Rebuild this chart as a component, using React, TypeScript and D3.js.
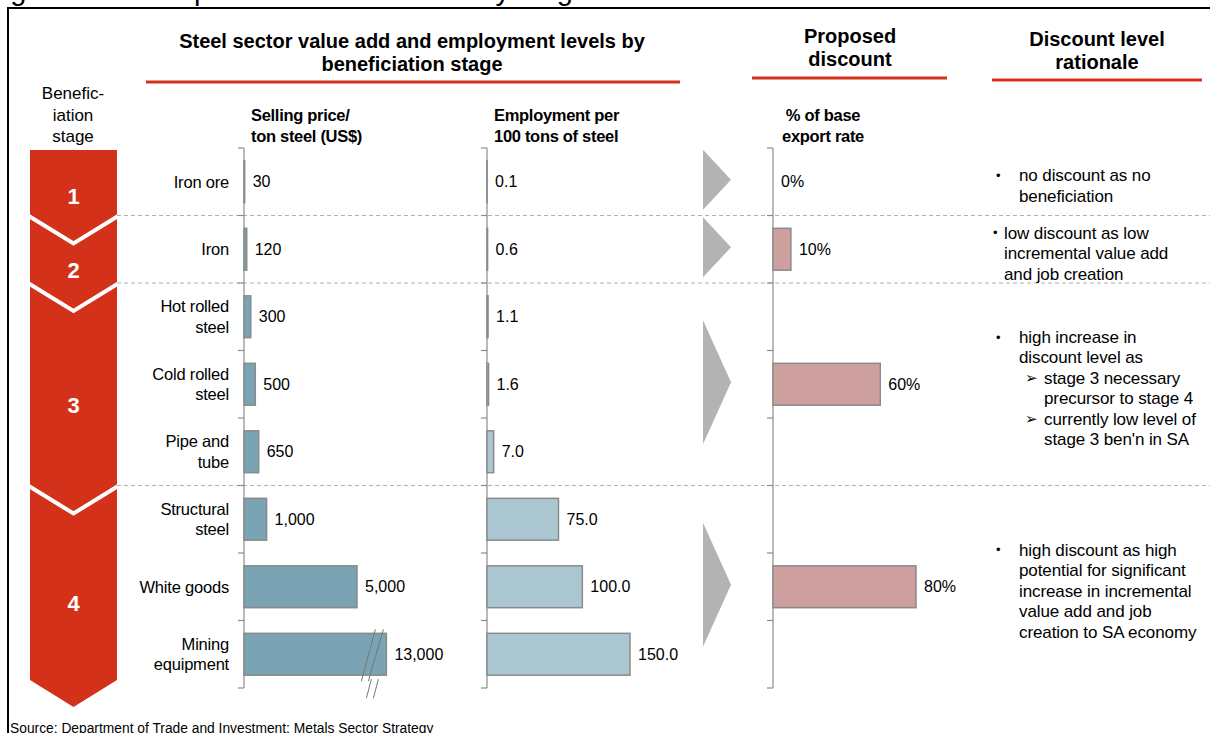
import React from "react";
import * as d3 from "d3";

// ---------- data ----------
const PRODUCTS = [
  "Iron ore",
  "Iron",
  "Hot rolled steel",
  "Cold rolled steel",
  "Pipe and tube",
  "Structural steel",
  "White goods",
  "Mining equipment",
];
const PRODUCT_LABEL_LINES = [
  ["Iron ore"],
  ["Iron"],
  ["Hot rolled", "steel"],
  ["Cold rolled", "steel"],
  ["Pipe and", "tube"],
  ["Structural", "steel"],
  ["White goods"],
  ["Mining", "equipment"],
];
const PRODUCT_STAGE = [1, 2, 3, 3, 3, 4, 4, 4];
const SELLING_PRICE = [30, 120, 300, 500, 650, 1000, 5000, 13000];
const EMPLOYMENT = [0.1, 0.6, 1.1, 1.6, 7.0, 75.0, 100.0, 150.0];
const STAGES = [1, 2, 3, 4];
const STAGE_DISCOUNT = [0, 10, 60, 80];
const PRICE_BREAK_CAP = 6300; // bars above this are drawn broken
const RATIONALE = [
  ["* no discount as no", "  beneficiation"],
  ["* low discount as low", "  incremental value add", "  and job creation"],
  [
    "* high increase in",
    "  discount level as",
    "> stage 3 necessary",
    ">>precursor to stage 4",
    "> currently low level of",
    ">>stage 3 ben'n in SA",
  ],
  [
    "* high discount as high",
    "  potential for significant",
    "  increase in incremental",
    "  value add and job",
    "  creation to SA economy",
  ],
];
const RATIONALE_TIGHT = [false, true, false, false];

// ---------- style ----------
const FONT = "'Liberation Sans', Arial, sans-serif";
const RED = "#D4311A";
const PRICE_FILL = "#7AA3B4";
const EMP_FILL = "#AAC6D1";
const DISC_FILL = "#CDA09F";
const BAR_STROKE = "#8a8a8a";
const AXIS = "#8c8c8c";
const TRI = "#B3B3B3";

const W = 1210;
const H = 733;

export default function App() {
  const y = d3
    .scaleBand<string>()
    .domain(PRODUCTS)
    .range([148, 688])
    .paddingInner(0.38)
    .paddingOuter(0.19);
  const step = y.step();
  const bw = y.bandwidth();
  const rowCenter = (i: number) => (y(PRODUCTS[i]) as number) + bw / 2;
  const boundary = (i: number) => 148 + i * step; // i = 0..8

  const xPrice = d3.scaleLinear().domain([0, 5000]).range([244, 357]);
  const xEmp = d3.scaleLinear().domain([0, 150]).range([487, 630]);
  const xDisc = d3.scaleLinear().domain([0, 80]).range([773, 916]);

  const stageRows = STAGES.map((s) =>
    PRODUCT_STAGE.map((p, i) => (p === s ? i : -1)).filter((i) => i >= 0)
  );
  const stageTop = stageRows.map((r) => boundary(r[0]));
  const stageBottom = stageRows.map((r) => boundary(r[r.length - 1] + 1));
  const stageCenter = stageRows.map((_, k) => (stageTop[k] + stageBottom[k]) / 2);

  const priceFmt = d3.format(",");
  const empFmt = d3.format(".1f");

  // red stage column
  const cx0 = 30,
    cx1 = 117,
    cxm = (cx0 + cx1) / 2,
    depth = 27;
  const colTop = 150;
  const colEnd = 680;
  const redPath = `M${cx0},${colTop}H${cx1}V${colEnd}L${cxm},${colEnd + depth}L${cx0},${colEnd}Z`;
  const chevronYs = stageBottom.slice(0, 3).map((b) => b + 1);

  const stageNumY = STAGES.map((_, k) => {
    const topSide = k === 0 ? colTop : chevronYs[k - 1];
    const topTip = k === 0 ? colTop : chevronYs[k - 1] + depth;
    const botTip = k === 3 ? colEnd + depth : chevronYs[k] + depth;
    return ((topSide + botTip) / 2 + (topTip + botTip) / 2) / 2;
  });

  const axisXs = [xPrice(0), xEmp(0), xDisc(0)];

  return (
    <div style={{ position: "absolute", left: 0, top: 0 }}>
      <svg width={W} height={H} style={{ display: "block" }} fontFamily={FONT}>
        <rect width={W} height={H} fill="#fff" />
        {/* cut-off figure title */}
        <text x={-14} y={0} fontSize={29} fill="#000">
          Figure 10.2: Proposed discount levels by stage
        </text>
        {/* frame */}
        <path d={`M8,${H}V8H${W}`} fill="none" stroke="#000" strokeWidth={2} />

        {/* headers */}
        <g fontWeight="bold" fontSize={20} textAnchor="middle" fill="#000">
          <text x={412} y={48}>Steel sector value add and employment levels by</text>
          <text x={412} y={71}>beneficiation stage</text>
          <text x={850} y={43}>Proposed</text>
          <text x={850} y={66}>discount</text>
          <text x={1097} y={46}>Discount level</text>
          <text x={1097} y={69}>rationale</text>
        </g>
        <line x1={146} x2={680} y1={82} y2={82} stroke={RED} strokeWidth={3} />
        <line x1={752} x2={947} y1={78} y2={78} stroke={RED} strokeWidth={3} />
        <line x1={992} x2={1202} y1={80} y2={80} stroke={RED} strokeWidth={3} />

        <g fontSize={17} textAnchor="middle" fill="#000">
          <text x={73} y={99}>Benefic-</text>
          <text x={73} y={121}>iation</text>
          <text x={73} y={142}>stage</text>
        </g>
        <g fontWeight="bold" fontSize={16.5} fill="#000" letterSpacing={-0.3}>
          <text x={251} y={121}>Selling price/</text>
          <text x={251} y={142}>ton steel (US$)</text>
          <text x={494} y={121}>Employment per</text>
          <text x={494} y={142}>100 tons of steel</text>
          <text x={823} y={121} textAnchor="middle">% of base</text>
          <text x={823} y={142} textAnchor="middle">export rate</text>
        </g>

        {/* stage column */}
        <path d={redPath} fill={RED} />
        {chevronYs.map((cy, k) => (
          <polyline
            key={k}
            points={`${cx0 - 2},${cy - 1} ${cxm},${cy + depth} ${cx1 + 2},${cy - 1}`}
            fill="none"
            stroke="#fff"
            strokeWidth={4}
          />
        ))}
        {STAGES.map((s, k) => (
          <text
            key={s}
            x={cxm}
            y={stageNumY[k]}
            dy="0.35em"
            fill="#fff"
            fontWeight="bold"
            fontSize={22}
            textAnchor="middle"
          >
            {s}
          </text>
        ))}

        {/* dashed stage separators */}
        {stageBottom.slice(0, 3).map((b, k) => (
          <line
            key={k}
            x1={cx1}
            x2={W}
            y1={b}
            y2={b}
            stroke="#b0b0b0"
            strokeWidth={1}
            strokeDasharray="4,3"
          />
        ))}

        {/* axes */}
        {axisXs.map((ax, a) => (
          <g key={a} stroke={AXIS} strokeWidth={1.2}>
            <line x1={ax} x2={ax} y1={148} y2={688} />
            {d3.range(PRODUCTS.length + 1).map((i) => (
              <line key={i} x1={ax - 6} x2={ax} y1={boundary(i)} y2={boundary(i)} />
            ))}
          </g>
        ))}

        {/* product labels */}
        <g fontSize={16.5} fill="#000" textAnchor="end" letterSpacing={-0.2}>
          {PRODUCT_LABEL_LINES.map((lines, i) =>
            lines.map((t, j) => (
              <text
                key={i + "-" + j}
                x={229}
                y={rowCenter(i) + (j - (lines.length - 1) / 2) * 20.5}
                dy="0.35em"
              >
                {t}
              </text>
            ))
          )}
        </g>

        {/* selling price bars */}
        {SELLING_PRICE.map((v, i) => {
          const shown = Math.min(v, PRICE_BREAK_CAP);
          const x1 = xPrice(shown);
          const top = y(PRODUCTS[i]) as number;
          const bot = top + bw;
          const broken = v > PRICE_BREAK_CAP;
          return (
            <g key={i}>
              <rect
                x={xPrice(0)}
                y={top}
                width={x1 - xPrice(0)}
                height={bw}
                fill={PRICE_FILL}
                stroke={BAR_STROKE}
                strokeWidth={1.5}
              />
              {broken && (
                <g stroke="#777" strokeWidth={1}>
                  <line x1={x1 - 11} y1={top - 4} x2={x1 - 25} y2={bot + 6} />
                  <line x1={x1 - 3} y1={top - 4} x2={x1 - 18} y2={bot + 6} />
                  <line x1={x1 - 15} y1={bot + 4} x2={x1 - 20} y2={bot + 23} />
                  <line x1={x1 - 8} y1={bot + 4} x2={x1 - 13} y2={bot + 23} />
                </g>
              )}
              <text x={x1 + 8} y={rowCenter(i)} dy="0.35em" fontSize={16} fill="#000">
                {priceFmt(v)}
              </text>
            </g>
          );
        })}

        {/* employment bars */}
        {EMPLOYMENT.map((v, i) => {
          const top = y(PRODUCTS[i]) as number;
          return (
            <g key={i}>
              <rect
                x={xEmp(0)}
                y={top}
                width={xEmp(v) - xEmp(0)}
                height={bw}
                fill={EMP_FILL}
                stroke={BAR_STROKE}
                strokeWidth={1.5}
              />
              <text x={xEmp(v) + 8} y={rowCenter(i)} dy="0.35em" fontSize={16} fill="#000">
                {empFmt(v)}
              </text>
            </g>
          );
        })}

        {/* transition triangles */}
        {STAGES.map((s, k) => {
          const n = stageRows[k].length;
          const h = 60 + (n - 1) * 32;
          const c = stageCenter[k] - 2;
          return (
            <path
              key={s}
              d={`M703,${c - h / 2}L731,${c}L703,${c + h / 2}Z`}
              fill={TRI}
            />
          );
        })}

        {/* discount bars */}
        {STAGE_DISCOUNT.map((v, k) => {
          const c = stageCenter[k];
          return (
            <g key={k}>
              {v > 0 && (
                <rect
                  x={xDisc(0)}
                  y={c - bw / 2}
                  width={xDisc(v) - xDisc(0)}
                  height={bw}
                  fill={DISC_FILL}
                  stroke={BAR_STROKE}
                  strokeWidth={1.5}
                />
              )}
              <text x={xDisc(v) + 8} y={c} dy="0.35em" fontSize={16} fill="#000">
                {v}%
              </text>
            </g>
          );
        })}

        {/* rationale */}
        <g fontSize={17} fill="#000">
          {RATIONALE.map((lines, k) => {
            const c = stageCenter[k] + 4;
            const tight = RATIONALE_TIGHT[k];
            const bx = tight ? 993 : 996;
            const tx = tight ? 1004 : 1019;
            return lines.map((raw, j) => {
              const ly = c + (j - (lines.length - 1) / 2) * 20.5;
              const kind = raw.slice(0, 2);
              const t = raw.slice(2);
              const out = [];
              if (kind === "* ")
                out.push(
                  <text key="b" x={bx} y={ly} dy="0.35em" fontSize={13}>
                    •
                  </text>
                );
              if (kind === "> ")
                out.push(
                  <text key="a" x={1025} y={ly} dy="0.35em" fontSize={15}>
                    ➢
                  </text>
                );
              const x = kind === "> " || kind === ">>" ? 1044 : tx;
              out.push(
                <text key="t" x={x} y={ly} dy="0.35em" letterSpacing={-0.1}>
                  {t}
                </text>
              );
              return <g key={k + "-" + j}>{out}</g>;
            });
          })}
        </g>

        {/* source */}
        <text x={10} y={733} fontSize={13.8} fill="#000">
          Source: Department of Trade and Investment; Metals Sector Strategy
        </text>
      </svg>
    </div>
  );
}
